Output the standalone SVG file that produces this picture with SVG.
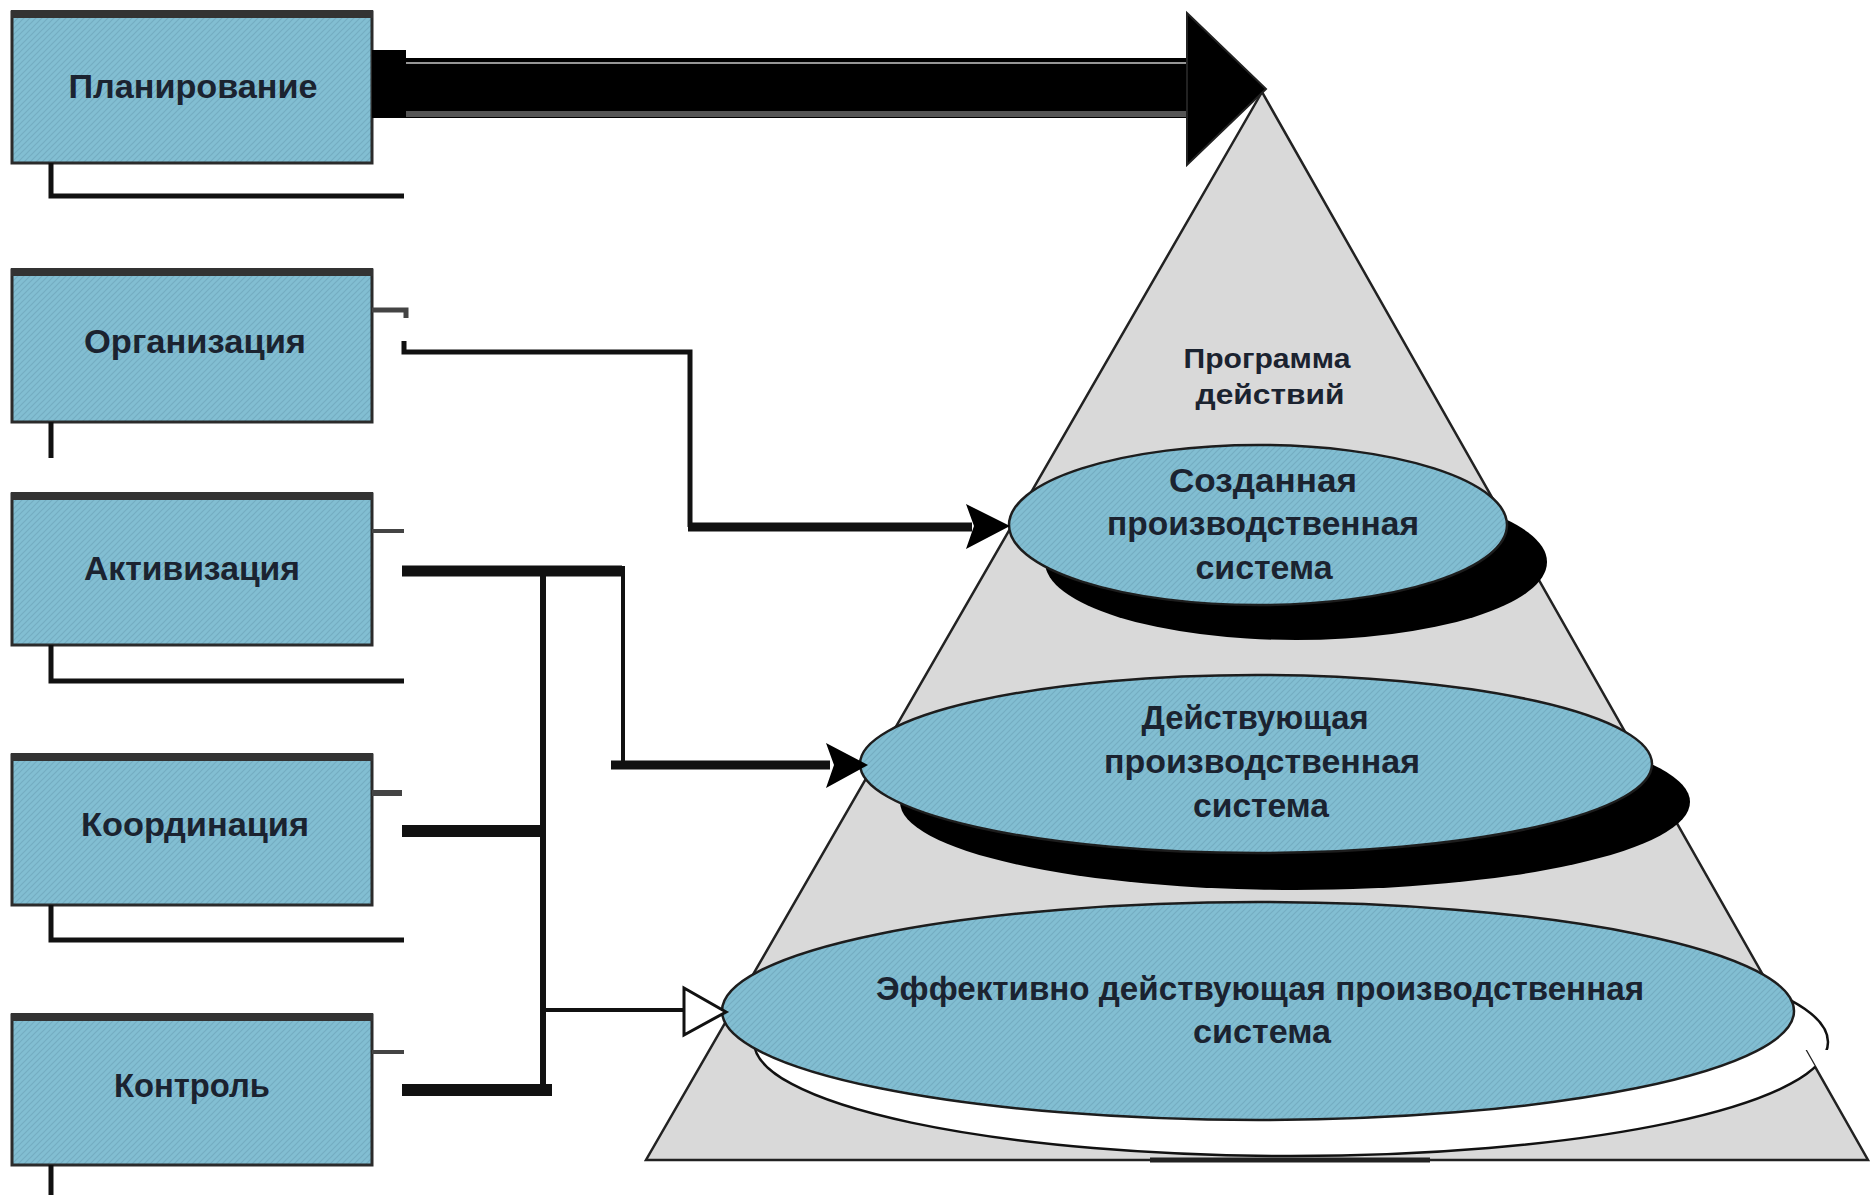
<svg xmlns="http://www.w3.org/2000/svg" width="1874" height="1195" viewBox="0 0 1874 1195">
  <defs>
    <pattern id="tex" width="6" height="6" patternUnits="userSpaceOnUse">
      <rect width="6" height="6" fill="#82bed2"/>
      <path d="M0 6 L6 0 M-1 1 L1 -1 M5 7 L7 5" stroke="#74adc2" stroke-width="1.2"/>
    </pattern>
    <clipPath id="whiteclip">
      <polygon points="1262,92 646,1160 1868,1160"/>
      <rect x="1760" y="900" width="114" height="150"/>
    </clipPath>
    <style>
      .box { fill: url(#tex); stroke: #2b2b2b; stroke-width: 3; }
      .boxtop { fill: #333; }
      .lbl { font-family: "Liberation Sans", Arial, sans-serif; font-weight: bold; fill: #1b2330; text-anchor: middle; }
      .bt { font-size: 34px; }
      .et { font-size: 34px; }
      .pt { font-size: 28px; }
      .ell { fill: url(#tex); stroke: #1d1d1d; stroke-width: 2.5; }
      .ln { fill: none; stroke: #111; stroke-linecap: butt; stroke-linejoin: miter; }
      .gl { fill: none; stroke: #444; }
    </style>
  </defs>
  <rect width="1874" height="1195" fill="#ffffff"/>

  <!-- Pyramid -->
  <g id="pyramid">
    <polygon points="1262,92 646,1160 1868,1160" fill="#d9d9d9" stroke="#222" stroke-width="2.5" stroke-linejoin="miter"/>
    <text class="lbl pt" x="1267" y="368" textLength="167" lengthAdjust="spacingAndGlyphs">Программа</text>
    <text class="lbl pt" x="1270" y="404" textLength="149" lengthAdjust="spacingAndGlyphs">действий</text>
  </g>

  <!-- Level 3 (bottom) -->
  <g id="level3">
    <ellipse cx="1291" cy="1042" rx="537" ry="114" fill="#ffffff" stroke="#111" stroke-width="2.5" clip-path="url(#whiteclip)"/>
    <line x1="1150" y1="1160" x2="1430" y2="1160" stroke="#222" stroke-width="5"/>
    <ellipse class="ell" cx="1258" cy="1011" rx="536" ry="109"/>
    <text class="lbl et" x="1260" y="1000" textLength="768" lengthAdjust="spacingAndGlyphs">Эффективно действующая производственная</text>
    <text class="lbl et" x="1262" y="1043" textLength="138" lengthAdjust="spacingAndGlyphs">система</text>
  </g>

  <!-- Level 2 -->
  <g id="level2">
    <ellipse cx="1295" cy="802" rx="395" ry="88" fill="#000"/>
    <ellipse class="ell" cx="1256" cy="764" rx="396" ry="89"/>
    <text class="lbl et" x="1255" y="729" textLength="227" lengthAdjust="spacingAndGlyphs">Действующая</text>
    <text class="lbl et" x="1262" y="773" textLength="316" lengthAdjust="spacingAndGlyphs">производственная</text>
    <text class="lbl et" x="1261" y="817" textLength="136" lengthAdjust="spacingAndGlyphs">система</text>
  </g>

  <!-- Level 1 -->
  <g id="level1">
    <ellipse cx="1296" cy="562" rx="251" ry="78" fill="#000"/>
    <ellipse class="ell" cx="1258" cy="525" rx="249" ry="80"/>
    <text class="lbl et" x="1263" y="492" textLength="188" lengthAdjust="spacingAndGlyphs">Созданная</text>
    <text class="lbl et" x="1263" y="535" textLength="312" lengthAdjust="spacingAndGlyphs">производственная</text>
    <text class="lbl et" x="1264" y="579" textLength="137" lengthAdjust="spacingAndGlyphs">система</text>
  </g>

  <!-- Boxes -->
  <g id="box-planning">
    <rect class="box" x="12" y="12" width="360" height="151"/>
    <rect class="boxtop" x="11" y="10" width="362" height="8"/>
    <text class="lbl bt" x="193" y="98" textLength="249" lengthAdjust="spacingAndGlyphs">Планирование</text>
  </g>
  <g id="box-organization">
    <rect class="box" x="12" y="270" width="360" height="152"/>
    <rect class="boxtop" x="11" y="268" width="362" height="8"/>
    <text class="lbl bt" x="195" y="353" textLength="222" lengthAdjust="spacingAndGlyphs">Организация</text>
  </g>
  <g id="box-activation">
    <rect class="box" x="12" y="494" width="360" height="151"/>
    <rect class="boxtop" x="11" y="492" width="362" height="8"/>
    <text class="lbl bt" x="192" y="580" textLength="216" lengthAdjust="spacingAndGlyphs">Активизация</text>
  </g>
  <g id="box-coordination">
    <rect class="box" x="12" y="755" width="360" height="150"/>
    <rect class="boxtop" x="11" y="753" width="362" height="8"/>
    <text class="lbl bt" x="195" y="836" textLength="228" lengthAdjust="spacingAndGlyphs">Координация</text>
  </g>
  <g id="box-control">
    <rect class="box" x="12" y="1015" width="360" height="150"/>
    <rect class="boxtop" x="11" y="1013" width="362" height="8"/>
    <text class="lbl bt" x="192" y="1097" textLength="156" lengthAdjust="spacingAndGlyphs">Контроль</text>
  </g>

  <!-- Connectors -->
  <g id="connectors">
    <!-- big arrow: Планирование -> apex -->
    <rect x="372" y="58" width="820" height="60" fill="#000"/>
    <rect x="372" y="50" width="34" height="14" fill="#000"/>
    <line x1="406" y1="63" x2="1188" y2="63" stroke="#c8c8c8" stroke-width="1.5"/>
    <rect x="406" y="111" width="782" height="6" fill="#555"/>
    <polygon points="1187,13 1266,89 1187,165" fill="#000" stroke="#222" stroke-width="2"/>

    <!-- under-box lines -->
    <path class="ln" d="M51 163 V196 H404" stroke-width="5" stroke="#1a1a1a"/>
    <path class="ln" d="M51 422 V458" stroke-width="5"/>
    <path class="ln" d="M51 645 V681 H404" stroke-width="5" stroke="#4a4a4a"/>
    <path class="ln" d="M51 905 V940 H404" stroke-width="5" stroke="#1a1a1a"/>
    <path class="ln" d="M51 1165 V1195" stroke-width="5"/>

    <!-- Организация -> Созданная -->
    <path class="gl" d="M372 310 H406 V318" stroke-width="5" stroke="#333"/>
    <path class="ln" d="M404 341 V352 H690 V527" stroke-width="5"/>
    <path class="ln" d="M688 527 H972" stroke-width="9"/>
    <polygon points="966,504 1010,526 966,549 974,526" fill="#000"/>

    <!-- Активизация -->
    <path class="gl" d="M372 531 H404" stroke-width="4" stroke="#555"/>
    <path class="ln" d="M402 571 H622" stroke-width="11"/>
    <path class="ln" d="M543 571 V1093" stroke-width="6"/>
    <path class="ln" d="M623 566 V765" stroke-width="4" stroke="#333"/>
    <path class="ln" d="M611 765 H830" stroke-width="9" stroke="#222"/>
    <polygon points="826,743 868,765 826,788 834,765" fill="#000"/>

    <!-- Координация -->
    <path class="gl" d="M372 793 H402" stroke-width="6" stroke="#333"/>
    <path class="ln" d="M402 831 H546" stroke-width="12"/>

    <!-- Контроль -->
    <path class="gl" d="M372 1052 H404" stroke-width="4" stroke="#333"/>
    <path class="ln" d="M402 1090 H552" stroke-width="12"/>

    <!-- to Эффективно действующая -->
    <path class="ln" d="M546 1010 H686" stroke-width="4"/>
    <polygon points="684,988 726,1012 684,1035" fill="#fff" stroke="#111" stroke-width="3"/>
  </g>
</svg>
